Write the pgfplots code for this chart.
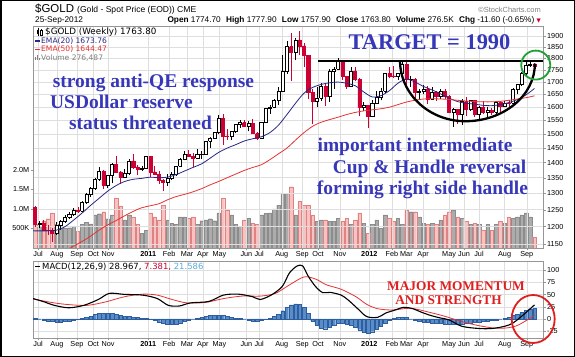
\documentclass[border=0pt]{standalone}
\usepackage{pgfplots}
\pgfplotsset{compat=1.18}
\usepackage{pgfplotstable}
\usepackage{fontspec}
\setmainfont{Liberation Serif}
\setsansfont{Liberation Sans}
\newfontfamily\dejavu{DejaVu Sans}
\usetikzlibrary{calc}

\definecolor{cred}{RGB}{204,0,51}
\definecolor{emablue}{RGB}{40,40,130}
\definecolor{emared}{RGB}{230,50,50}
\definecolor{volgrey}{RGB}{172,172,172}
\definecolor{volgreyd}{RGB}{140,140,140}
\definecolor{volpink}{RGB}{246,194,194}
\definecolor{volpinkd}{RGB}{225,130,130}
\definecolor{annblue}{RGB}{55,55,185}
\definecolor{anngreen}{RGB}{30,160,50}
\definecolor{annred}{RGB}{225,30,30}
\definecolor{histfill}{RGB}{90,140,200}
\definecolor{histdraw}{RGB}{45,95,160}
\definecolor{gridc}{RGB}{222,222,222}
\definecolor{framec}{RGB}{150,150,150}
\definecolor{lblue}{RGB}{90,170,220}

\pgfplotstableread{
i o h l c v
0 1258 1262 1200 1208 0.62
1 1208 1216 1195 1210 0.55
2 1210 1218 1187 1190 0.70
3 1190 1205 1177 1189 0.75
4 1189 1196 1157 1182 0.90
5 1182 1214 1177 1205 0.60
6 1205 1218 1191 1215 0.50
7 1215 1235 1211 1227 0.50
8 1227 1242 1223 1237 0.52
9 1237 1255 1232 1247 0.55
10 1247 1259 1239 1245 0.42
11 1245 1275 1242 1274 0.60
12 1274 1300 1268 1297 0.65
13 1297 1320 1290 1317 0.62
14 1317 1349 1312 1345 0.85
15 1345 1387 1340 1370 0.88
16 1370 1375 1315 1327 0.93
17 1327 1360 1318 1358 0.75
18 1358 1398 1332 1394 0.85
19 1394 1424 1365 1369 1.27
20 1369 1372 1330 1352 1.06
21 1352 1380 1350 1363 0.72
22 1363 1412 1360 1406 0.85
23 1406 1431 1380 1386 0.78
24 1386 1393 1360 1377 0.60
25 1377 1390 1372 1380 0.38
26 1380 1424 1378 1421 0.45
27 1421 1423 1353 1369 0.90
28 1369 1390 1360 1361 0.80
29 1361 1372 1330 1342 0.72
30 1342 1346 1309 1336 1.10
31 1336 1362 1325 1348 0.72
32 1348 1370 1343 1360 0.63
33 1360 1390 1355 1388 0.60
34 1388 1415 1385 1410 0.80
35 1410 1440 1408 1428 0.80
36 1428 1445 1420 1421 0.76
37 1421 1433 1384 1416 0.80
38 1416 1447 1415 1428 0.60
39 1428 1440 1411 1430 0.70
40 1430 1476 1426 1475 0.72
41 1475 1488 1450 1486 0.75
42 1486 1509 1485 1505 0.70
43 1505 1569 1500 1556 0.90
44 1556 1575 1462 1493 1.27
45 1493 1518 1480 1492 0.97
46 1492 1512 1478 1510 0.85
47 1510 1537 1505 1536 0.60
48 1536 1550 1522 1542 0.55
49 1542 1550 1525 1529 0.72
50 1529 1548 1510 1540 0.76
51 1540 1557 1500 1501 0.63
52 1501 1509 1478 1485 0.60
53 1485 1545 1482 1542 0.85
54 1542 1595 1540 1594 0.89
55 1594 1610 1575 1601 0.90
56 1601 1633 1597 1625 1.00
57 1625 1681 1610 1664 1.10
58 1664 1814 1660 1744 1.40
59 1744 1877 1735 1852 1.40
60 1852 1912 1705 1828 1.57
61 1828 1889 1792 1882 0.85
62 1882 1921 1815 1855 1.19
63 1855 1868 1764 1813 1.10
64 1813 1815 1630 1657 1.10
65 1657 1671 1535 1623 0.85
66 1623 1678 1600 1636 0.68
67 1636 1695 1626 1682 0.72
68 1682 1690 1604 1642 0.72
69 1642 1756 1620 1744 0.68
70 1744 1763 1672 1754 0.68
71 1754 1803 1750 1788 0.76
72 1788 1792 1710 1724 0.68
73 1724 1726 1671 1684 0.76
74 1684 1761 1683 1746 0.60
75 1746 1761 1703 1712 0.72
76 1712 1716 1565 1598 0.90
77 1598 1621 1586 1606 0.63
78 1606 1610 1523 1564 0.38
79 1564 1627 1564 1617 0.60
80 1617 1664 1612 1639 0.72
81 1639 1675 1627 1664 0.50
82 1664 1737 1657 1737 0.85
83 1737 1764 1715 1725 0.76
84 1725 1765 1716 1723 0.68
85 1723 1739 1710 1735 0.76
86 1735 1790 1733 1774 0.60
87 1774 1792 1688 1711 0.97
88 1711 1725 1680 1712 0.93
89 1712 1718 1634 1657 0.93
90 1657 1671 1627 1662 0.80
91 1662 1688 1650 1669 0.63
92 1669 1683 1612 1631 0.60
93 1631 1678 1630 1660 0.63
94 1660 1663 1626 1642 0.60
95 1642 1671 1633 1663 0.72
96 1663 1672 1632 1643 0.85
97 1643 1647 1577 1579 0.93
98 1579 1597 1527 1592 0.97
99 1592 1595 1538 1573 0.80
100 1573 1630 1532 1622 0.76
101 1622 1640 1568 1591 0.68
102 1591 1629 1587 1627 0.60
103 1627 1628 1562 1572 0.63
104 1572 1606 1548 1599 0.60
105 1599 1626 1573 1579 0.46
106 1579 1602 1564 1589 0.60
107 1589 1597 1572 1580 0.46
108 1580 1626 1575 1618 0.60
109 1618 1625 1583 1604 0.68
110 1604 1625 1600 1617 0.63
111 1617 1627 1598 1616 0.80
112 1616 1675 1613 1670 0.76
113 1670 1694 1650 1692 0.80
114 1692 1740 1685 1737 0.85
115 1737 1786 1730 1768 0.90
116 1768 1788 1763 1773 0.80
117 1774.7 1777.9 1757.9 1763.8 0.28
}\gold

\pgfplotstableread{
x y
-0.5 1188
3 1188
5 1190
7 1200
9 1219
11 1240
13 1263
15 1285
17 1307
19 1325
21 1338
23 1345
25 1348
27 1352
29 1350
31 1352
33 1360
35 1372
37 1384
39 1396
41 1415
43 1435
45 1450
47 1462
49 1475
51 1483
53 1490
55 1505
57 1532
59 1572
61 1615
63 1655
65 1678
67 1690
69 1697
71 1700
73 1695
75 1685
77 1660
79 1640
81 1645
83 1665
85 1695
87 1712
89 1700
91 1682
93 1668
95 1652
97 1635
99 1622
101 1615
103 1612
105 1607
107 1606
109 1610
111 1618
113 1630
115 1648
117 1673.76
}\emaA

\pgfplotstableread{
x y
6 1125
9 1145
12 1165
15 1190
17 1205
19 1218
21 1232
23 1245
25 1256
27 1262
29 1268
31 1280
33 1290
35 1297
37 1305
39 1315
41 1327
43 1338
45 1350
47 1362
49 1374
51 1384
53 1393
55 1410
57 1430
59 1450
61 1478
63 1505
65 1528
67 1543
69 1553
71 1562
73 1572
75 1580
77 1586
79 1590
81 1594
83 1600
85 1610
87 1620
89 1627
91 1632
93 1633
95 1632
97 1630
99 1627
101 1624
103 1622
105 1621
107 1621
109 1623
111 1627
113 1632
115 1637
117 1644.47
}\emaB

\pgfplotstableread{
x y
-0.5 42
2 35.5
4.5 28
7.9 23
11.4 28
14.8 40
17.4 52.6
20.9 50.5
25.2 49
28.6 42
31.2 28
33.8 26.7
36.4 33
40.7 36
44.1 49
47.6 51
51 45.6
52.7 40
55.3 49
57.9 66.7
59.6 94.7
61.4 108.8
62.7 108.8
64 87.7
65.7 66.7
67.4 54
69.1 54.7
71.7 49
73.4 38.6
75.6 21
77.7 4.9
80.3 3.5
82.1 12
84.2 18
86.4 24
88.5 21
90.5 14
92.4 8
94.5 3
97 -2
100 -15
104 -19.5
107 -19.5
110 -15
112 -8
114.8 11.6
117 28.967
}\macdline

\pgfplotstableread{
x y
-0.5 41
4.5 33
7.9 29.5
12.2 28
16.5 35
20.9 45.6
25.2 51
28.6 49
32.1 40
35.6 33
39.9 34
44.2 42
48.5 47
52.8 47
56.3 52.6
59.6 70
63 86.3
65.7 82
68.3 70
71.7 61
75.2 45.6
77.7 30
80.3 21
83.8 18.5
88 22
92.4 13.7
96.3 4.8
100 -5.5
104 -13.7
107.9 -19
111 -17.8
113.3 -12
117 7.381
}\signalline

\pgfplotstableread{
i h
0 2
1 0
2 -2
3 -4
4 -5
5 -6
6 -6
7 -5
8 -4
9 -2
10 -1
11 1
12 3
13 6
14 9
15 11
16 12
17 12
18 11
19 9
20 7
21 6
22 5
23 4
24 3
25 2
26 1
27 -1
28 -3
29 -6
30 -9
31 -11
32 -11
33 -10
34 -8
35 -5
36 -2
37 0
38 2
39 4
40 6
41 7
42 8
43 8
44 7
45 5
46 3
47 2
48 1
49 0
50 -2
51 -4
52 -5
53 -3
54 -1
55 2
56 5
57 10
58 17
59 24
60 29
61 31
62 30
63 24
64 12
65 -4
66 -13
67 -18
68 -20
69 -17
70 -12
71 -9
72 -8
73 -10
74 -13
75 -17
76 -22
77 -27
78 -29
79 -26
80 -21
81 -15
82 -8
83 -3
84 1
85 3
86 4
87 3
88 0
89 -3
90 -5
91 -6
92 -7
93 -8
94 -8
95 -9
96 -10
97 -10
98 -11
99 -11
100 -10
101 -9
102 -8
103 -7
104 -6
105 -5
106 -4
107 -3
108 -2
109 0
110 2
111 4
112 7
113 10
114 14
115 18
116 21
117 21.586
}\histtab

\pgfplotsset{
  wickup/.style={black, line width=0.6bp, forget plot},
  bodyup/.style={draw=black, fill=white, line width=0.6bp, forget plot},
  wickdn/.style={cred, line width=0.6bp, forget plot},
  bodydn/.style={draw=cred, fill=cred, line width=0.6bp, forget plot},
  chartbase/.style={scale only axis, width=510bp, xmin=-0.5, xmax=119,
    axis line style={draw=framec, line width=0.5bp},
    grid=major, major grid style={draw=gridc, line width=0.5bp},
    tick style={draw=framec, line width=0.4bp}, major tick length=2.5bp, tick align=outside,
    xtick pos=bottom, ytick pos=right, yticklabel pos=right,
    tick label style={font=\sffamily\fontsize{7.3}{8}\selectfont, text=black},
    xtick={0.7,5.1,9.8,13.6,17.1,26.5,31.4,35.6,39.3,43.2,49.5,52.5,57.8,62.6,66.3,71.4,78.3,83.6,87,90.9,97,100.5,104,110,115.2},
    xticklabels={Jul,Aug,Sep,Oct,Nov,{\textbf{2011}},Feb,Mar,Apr,May,Jun,Jul,Aug,Sep,Oct,Nov,{\textbf{2012}},Feb,Mar,Apr,May,Jun,Jul,Aug,Sep},
    xticklabel style={inner sep=1bp}, yticklabel style={inner sep=1.5bp},
  },
}

\begin{document}
\begin{tikzpicture}
\path[use as bounding box] (0,0) rectangle (575bp,357bp);
\fill[white] (0,0) rectangle (575bp,357bp);

% ---------- volume (behind) ----------
\begin{axis}[at={(33bp,109bp)}, anchor=south west, scale only axis, width=510bp, height=222bp,
  xmin=-0.5, xmax=119, ymin=0, ymax=5.69,
  axis line style={draw=none}, xtick=\empty,
  ytick={0.5,1,1.5,2}, yticklabels={500K,1.0M,1.5M,2.0M}, ytick pos=left,
  tick style={draw=framec, line width=0.4bp}, major tick length=2bp, tick align=outside,
  tick label style={font=\sffamily\fontsize{7.3}{8}\selectfont, text=black},
  yticklabel style={inner sep=1.5bp}]
\addplot[ybar, bar width=0.82, fill=volgrey, draw=volgreyd, line width=0.3bp]
  table[x=i, y expr={\thisrow{c}>=\thisrow{o} ? \thisrow{v} : nan}] {\gold};
\addplot[ybar, bar width=0.82, fill=volpink, draw=volpinkd, line width=0.3bp]
  table[x=i, y expr={\thisrow{c}<\thisrow{o} ? \thisrow{v} : nan}] {\gold};
\end{axis}

% ---------- price ----------
\begin{axis}[chartbase, at={(33bp,109bp)}, anchor=south west, height=222bp,
  ymode=log, ymin=1140, ymax=1946, yminorticks=false,
  ytick={1150,1200,1250,1300,1350,1400,1450,1500,1550,1600,1650,1700,1750,1800,1850,1900},
  yticklabels={1150,1200,1250,1300,1350,1400,1450,1500,1550,1600,1650,1700,1750,1800,1850,1900}]
\pgfplotsinvokeforeach{0,...,117}{
  \pgfplotstablegetelem{#1}{o}\of\gold \let\cO\pgfplotsretval
  \pgfplotstablegetelem{#1}{h}\of\gold \let\cH\pgfplotsretval
  \pgfplotstablegetelem{#1}{l}\of\gold \let\cL\pgfplotsretval
  \pgfplotstablegetelem{#1}{c}\of\gold \let\cC\pgfplotsretval
  \ifdim\cC pt<\cO pt \def\cs{dn}\else\def\cs{up}\fi
  \pgfmathsetmacro\xa{#1-0.36}
  \pgfmathsetmacro\xb{#1+0.36}
  \edef\tmp{\noexpand\addplot[wick\cs] coordinates {(#1,\cL) (#1,\cH)};
    \noexpand\addplot[body\cs] coordinates {(\xa,\cO) (\xb,\cO) (\xb,\cC) (\xa,\cC) (\xa,\cO)};}
  \tmp
}
\addplot[emablue, line width=0.8bp, smooth] table[x=x,y=y] {\emaA};
\addplot[emared, line width=0.8bp, smooth] table[x=x,y=y] {\emaB};
\addplot[black, line width=2bp] coordinates {(66.3,1790) (119,1790)};
\coordinate (L) at (axis cs:85.5,1790);
\coordinate (B) at (axis cs:100.8,1547);
\coordinate (R) at (axis cs:117.1,1777);
\coordinate (G) at (axis cs:117.3,1771);
\end{axis}

\draw[black, line width=2.3bp] (L) .. controls ($(L)!0.5523!(L|-B)$) and ($(B)!0.5523!(L|-B)$) .. (B)
   .. controls ($(B)!0.5523!(R|-B)$) and ($(R)!0.5523!(R|-B)$) .. (R);
\draw[anngreen, line width=1.8bp] (G) circle (14.5bp);

% ---------- MACD ----------
\begin{axis}[chartbase, at={(33bp,19bp)}, anchor=south west, height=77bp,
  ymin=-39, ymax=119, ytick={-25,0,25,50,75,100}, yticklabels={-25,0,25,50,75,100}]
\addplot[ybar, bar width=0.85, fill=histfill, draw=histdraw, line width=0.3bp] table[x=i,y=h] {\histtab};
\addplot[emared, line width=0.8bp, smooth] table[x=x,y=y] {\signalline};
\addplot[black, line width=1.1bp, smooth] table[x=x,y=y] {\macdline};
\coordinate (E) at (axis cs:116.7,0);
\end{axis}
\draw[annred, line width=1.8bp] (E) ellipse (21.5bp and 24bp);

% ---------- header ----------
\node[anchor=base west, inner sep=0] at (35bp,344.5bp) {\sffamily\fontsize{11.5}{12}\selectfont \$GOLD\ \fontsize{8.6}{9}\selectfont(Gold - Spot Price (EOD)) CME};
\node[anchor=base east, inner sep=0, text=gray] at (541bp,344.5bp) {\sffamily\fontsize{7.5}{8}\selectfont \textcopyright StockCharts.com};
\node[anchor=base west, inner sep=0] at (35bp,334bp) {\sffamily\fontsize{8.3}{9}\selectfont 25-Sep-2012};
\node[anchor=base east, inner sep=0] at (541bp,334bp) {\sffamily\fontsize{8.3}{9}\selectfont
  \textbf{Open} 1774.70\hspace{3bp} \textbf{High} 1777.90\hspace{3bp} \textbf{Low} 1757.90\hspace{3bp} \textbf{Close} 1763.80\hspace{3bp} \textbf{Volume} 276.5K\hspace{3bp} \textbf{Chg} -11.60 (-0.65\%) {\color{cred}\dejavu\fontsize{5.5}{6}\selectfont ▼}};

% ---------- legends ----------
% small candle icon
\draw[black, line width=0.5bp] (38bp,321bp) -- (38bp,328.5bp);
\fill[black] (37bp,322.5bp) rectangle (39bp,327bp);
\draw[black, line width=0.5bp] (41.5bp,320.5bp) -- (41.5bp,328bp);
\draw[black, line width=0.5bp, fill=white] (40.5bp,322bp) rectangle (42.5bp,326.5bp);
\node[anchor=base west, inner sep=0] at (45bp,322bp) {\dejavu\fontsize{8.8}{9}\selectfont \$GOLD (Weekly) 1763.80};
\draw[emablue, line width=1.3bp] (35bp,316bp) -- (40bp,316bp);
\node[anchor=base west, inner sep=0, text=emablue] at (41bp,313.5bp) {\dejavu\fontsize{7.6}{8}\selectfont EMA(20) 1673.76};
\draw[emared, line width=1.3bp] (35bp,307.5bp) -- (40bp,307.5bp);
\node[anchor=base west, inner sep=0, text=emared] at (41bp,305bp) {\dejavu\fontsize{7.6}{8}\selectfont EMA(50) 1644.47};
% small volume icon
\fill[gray] (35bp,296.5bp) rectangle (36.2bp,300bp);
\fill[gray] (36.8bp,296.5bp) rectangle (38bp,302bp);
\fill[gray] (38.6bp,296.5bp) rectangle (39.8bp,299bp);
\node[anchor=base west, inner sep=0, text=gray] at (41bp,296.5bp) {\dejavu\fontsize{7.6}{8}\selectfont Volume 276,487};
\draw[black, line width=1.2bp] (35bp,90.3bp) -- (40bp,90.3bp);
\node[anchor=base west, inner sep=0] at (42bp,87.5bp) {\dejavu\fontsize{8.5}{9}\selectfont MACD(12,26,9) 28.967, {\color{cred}7.381,} {\color{lblue}21.586}};

% ---------- annotations ----------
\begin{scope}[every node/.style={anchor=base, inner sep=0, text=annblue, font=\bfseries\fontsize{19.5}{20}\selectfont}]
\node at (153.5bp,269.7bp) {strong anti-QE response};
\node at (121.5bp,248.7bp) {USDollar reserve};
\node at (140.5bp,227bp) {status threatened};
\node at (415bp,205.3bp) {important intermediate};
\node at (429.5bp,183bp) {Cup \& Handle reversal};
\node at (422.5bp,162bp) {forming right side handle};
\node[font=\bfseries\fontsize{22.5}{23}\selectfont] at (429.5bp,307bp) {TARGET = 1990};
\end{scope}
\node[anchor=base, inner sep=0, text=annred, font=\bfseries\fontsize{13.4}{14}\selectfont] at (456bp,66bp) {MAJOR MOMENTUM};
\node[anchor=base, inner sep=0, text=annred, font=\bfseries\fontsize{13.4}{14}\selectfont] at (448.5bp,52bp) {AND STRENGTH};

\draw[black, line width=1.5bp] (0.75bp,0.75bp) rectangle (574.25bp,356.25bp);
\end{tikzpicture}
\end{document}
